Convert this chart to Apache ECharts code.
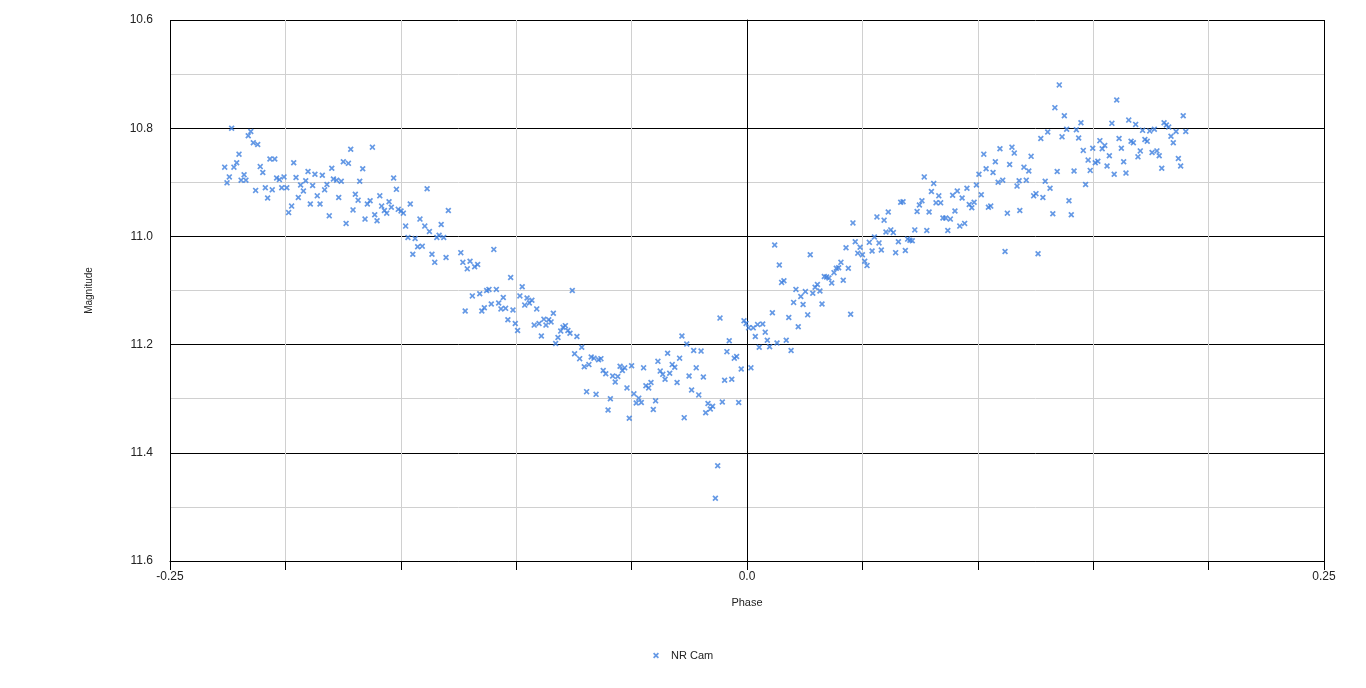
<!DOCTYPE html>
<html>
<head>
<meta charset="utf-8">
<script src="https://cdn.jsdelivr.net/npm/echarts@6/dist/echarts.min.js"></script>
<style>
html,body{margin:0;padding:0;background:#fff;}
#chart{width:1366px;height:688px;}
</style>
</head>
<body>
<div id="chart"></div>
<script>
const seriesName = 'NR Cam';
const xTickLabels = ['-0.25', '0.0', '0.25'];
const yTickLabels = ['10.6', '10.8', '11.0', '11.2', '11.4', '11.6'];

const phase = [
-0.2263,-0.2253,-0.2243,-0.2233,-0.2223,-0.2211,-0.2201,-0.2192,-0.2179,-0.2171,
-0.2161,-0.2150,-0.2139,-0.2129,-0.2120,-0.2109,-0.2098,-0.2087,-0.2077,-0.2067,
-0.2057,-0.2046,-0.2038,-0.2026,-0.2016,-0.2006,-0.1994,-0.1986,-0.1973,-0.1964,
-0.1954,-0.1944,-0.1934,-0.1922,-0.1912,-0.1902,-0.1892,-0.1882,-0.1872,-0.1862,
-0.1850,-0.1840,-0.1830,-0.1820,-0.1810,-0.1799,-0.1792,-0.1778,-0.1769,-0.1758,
-0.1749,-0.1737,-0.1727,-0.1717,-0.1707,-0.1697,-0.1685,-0.1678,-0.1665,-0.1655,
-0.1645,-0.1633,-0.1623,-0.1613,-0.1603,-0.1591,-0.1583,-0.1571,-0.1561,-0.1551,
-0.1541,-0.1531,-0.1519,-0.1511,-0.1499,-0.1489,-0.1479,-0.1469,-0.1459,-0.1448,
-0.1438,-0.1427,-0.1417,-0.1407,-0.1396,-0.1386,-0.1376,-0.1365,-0.1353,-0.1344,
-0.1334,-0.1325,-0.1314,-0.1304,-0.1294,-0.1240,-0.1231,-0.1212,-0.1200,-0.1180,
-0.1167,-0.1097,-0.1221,-0.1190,-0.1158,-0.1149,-0.1138,-0.1128,-0.1118,-0.1108,
-0.1086,-0.1076,-0.1066,-0.1056,-0.1046,-0.1036,-0.1024,-0.1014,-0.1004,-0.0994,
-0.0984,-0.0974,-0.0963,-0.0953,-0.0943,-0.0932,-0.0922,-0.0911,-0.0901,-0.0891,
-0.0880,-0.0871,-0.0859,-0.0849,-0.0839,-0.0819,-0.0807,-0.0797,-0.0787,-0.0776,
-0.0767,-0.0757,-0.0737,-0.0829,-0.0747,-0.0725,-0.0716,-0.0705,-0.0695,-0.0685,
-0.0675,-0.0663,-0.0654,-0.0643,-0.0633,-0.0623,-0.0612,-0.0602,-0.0592,-0.0582,
-0.0571,-0.0560,-0.0550,-0.0540,-0.0530,-0.0520,-0.0510,-0.0500,-0.0490,-0.0480,
-0.0469,-0.0458,-0.0448,-0.0438,-0.0426,-0.0416,-0.0406,-0.0396,-0.0386,-0.0376,
-0.0365,-0.0355,-0.0344,-0.0335,-0.0324,-0.0313,-0.0303,-0.0292,-0.0282,-0.0272,
-0.0261,-0.0251,-0.0240,-0.0231,-0.0220,-0.0209,-0.0199,-0.0189,-0.0179,-0.0169,
-0.0159,-0.0149,-0.0117,-0.0107,-0.0097,-0.0087,-0.0077,-0.0066,-0.0055,-0.0045,
-0.0036,-0.0025,-0.0127,-0.0137,-0.0013,-0.0004,0.0007,0.0017,0.0027,0.0036,
0.0046,0.0053,0.0068,0.0079,0.0088,0.0098,0.0110,0.0120,0.0130,0.0140,
0.0150,0.0160,0.0170,0.0181,0.0191,0.0202,0.0212,0.0222,0.0233,0.0243,
0.0253,0.0263,0.0274,0.0285,0.0295,0.0305,0.0316,0.0325,0.0335,0.0345,
0.0355,0.0367,0.0377,0.0387,0.0397,0.0407,0.0417,0.0429,0.0439,0.0449,
0.0459,0.0469,0.0480,0.0490,0.0500,0.0510,0.0520,0.0530,0.0542,0.0552,
0.0563,0.0572,0.0582,0.0594,0.0602,0.0612,0.0623,0.0634,0.0644,0.0656,
0.0666,0.0676,0.0686,0.0696,0.0706,0.0716,0.0727,0.0737,0.0747,0.0758,
0.0768,0.0779,0.0789,0.0799,0.0809,0.0819,0.0831,0.0839,0.0849,0.0861,
0.0870,0.0881,0.0891,0.0901,0.0911,0.0922,0.0932,0.0943,0.0953,0.0963,
0.0974,0.0984,0.0994,0.1005,0.1015,0.1026,0.1036,0.1046,0.1056,0.1066,
0.1076,0.1088,0.1108,0.1118,0.1128,0.1138,0.1158,0.1170,0.1182,0.1096,
0.1148,0.1179,0.1200,0.1210,0.1221,0.1231,0.1242,0.1252,0.1261,0.1273,
0.1282,0.1292,0.1303,0.1313,0.1325,0.1334,0.1344,0.1353,0.1365,0.1375,
0.1385,0.1395,0.1405,0.1417,0.1427,0.1437,0.1447,0.1457,0.1467,0.1478,
0.1487,0.1498,0.1509,0.1520,0.1529,0.1539,0.1550,0.1560,0.1570,0.1581,
0.1591,0.1602,0.1612,0.1622,0.1632,0.1642,0.1654,0.1664,0.1674,0.1684,
0.1694,0.1704,0.1714,0.1724,0.1734,0.1745,0.1755,0.1765,0.1776,0.1786,
0.1797,0.1807,0.1817,0.1827,0.1837,0.1847,0.1859,0.1869,0.1879,0.1890,
0.1901
];

const magnitude = [
10.872,10.901,10.890,10.800,10.872,10.864,10.848,10.896,10.886,10.896,
10.814,10.806,10.827,10.915,10.830,10.871,10.882,10.910,10.929,10.857,
10.914,10.857,10.892,10.895,10.910,10.890,10.910,10.956,10.944,10.864,
10.891,10.928,10.905,10.916,10.897,10.880,10.940,10.906,10.885,10.925,
10.940,10.887,10.914,10.904,10.962,10.874,10.894,10.896,10.928,10.898,
10.862,10.976,10.865,10.839,10.951,10.922,10.933,10.898,10.875,10.968,
10.940,10.934,10.835,10.960,10.971,10.925,10.944,10.952,10.957,10.936,
10.946,10.892,10.913,10.950,10.953,10.957,10.981,11.002,10.940,11.033,
11.004,11.019,10.968,11.018,10.981,10.912,10.991,11.033,11.048,11.002,
10.998,10.978,11.002,11.039,10.952,11.030,11.048,11.060,11.046,11.056,
11.052,11.024,11.138,11.110,11.106,11.138,11.132,11.100,11.098,11.125,
11.098,11.123,11.134,11.113,11.133,11.154,11.076,11.136,11.161,11.174,
11.110,11.093,11.127,11.114,11.123,11.118,11.164,11.134,11.161,11.184,
11.153,11.164,11.154,11.158,11.142,11.187,11.175,11.168,11.165,11.174,
11.179,11.100,11.185,11.198,11.217,11.226,11.205,11.241,11.287,11.237,
11.223,11.225,11.292,11.228,11.226,11.248,11.254,11.321,11.300,11.258,
11.269,11.259,11.240,11.248,11.243,11.280,11.336,11.239,11.291,11.308,
11.299,11.307,11.243,11.276,11.280,11.270,11.320,11.304,11.231,11.249,
11.255,11.264,11.216,11.253,11.237,11.242,11.270,11.225,11.184,11.335,
11.199,11.258,11.284,11.211,11.243,11.293,11.212,11.260,11.326,11.309,
11.319,11.314,11.151,11.306,11.266,11.213,11.193,11.264,11.225,11.222,
11.307,11.245,11.424,11.484,11.156,11.161,11.169,11.243,11.169,11.185,
11.163,11.205,11.162,11.177,11.192,11.204,11.141,11.016,11.197,11.053,
11.085,11.082,11.192,11.150,11.211,11.122,11.098,11.167,11.111,11.126,
11.102,11.145,11.034,11.105,11.094,11.089,11.101,11.125,11.074,11.075,
11.077,11.086,11.067,11.059,11.058,11.048,11.081,11.021,11.059,11.144,
10.975,11.010,11.031,11.020,11.034,11.046,11.054,11.011,11.027,11.001,
10.964,11.012,11.025,10.970,10.992,10.955,10.988,10.993,11.030,11.010,
10.937,10.936,11.026,11.005,11.007,11.008,10.988,10.954,10.942,10.934,
10.890,10.989,10.955,10.917,10.902,10.938,10.925,10.938,10.966,10.966,
10.989,10.968,10.924,10.953,10.916,10.981,10.929,10.976,10.911,10.941,
10.947,10.937,10.905,10.885,10.923,10.848,10.875,10.946,10.944,10.882,
10.862,10.900,10.896,11.028,10.957,10.867,10.846,10.907,10.952,10.838,
10.835,10.897,10.872,10.896,10.879,10.852,10.925,10.921,11.032,10.819,
10.928,10.898,10.807,10.911,10.958,10.762,10.880,10.720,10.816,10.777,
10.802,10.934,10.960,10.879,10.803,10.818,10.790,10.841,10.904,10.859,
10.878,10.837,10.864,10.861,10.823,10.838,10.832,10.870,10.851,10.791,
10.885,10.748,10.819,10.837,10.862,10.883,10.785,10.824,10.827,10.793,
10.853,10.842,10.804,10.821,10.824,10.805,10.845,10.802,10.842,10.851,
10.874,10.790,10.794,10.798,10.815,10.827,10.806,10.856,10.870,10.777,
10.806
];

const points = phase.map((p, i) => [p, magnitude[i]]);

const xMark = 'path://M0,1L1,0L2.5,1.5L4,0L5,1L3.5,2.5L5,4L4,5L2.5,3.5L1,5L0,4L1.5,2.5Z';
const markColor = '#3f7fdf';
const fontFam = '"Liberation Sans", Arial, sans-serif';

const chart = echarts.init(document.getElementById('chart'), null, {renderer: 'canvas'});
chart.setOption({
  animation: false,
  backgroundColor: '#fff',
  grid: {left: 170, right: 42, top: 20, bottom: 127, containLabel: false},
  legend: {
    left: 648, top: 645,
    itemWidth: 6, itemHeight: 6, icon: xMark,
    textStyle: {fontFamily: fontFam, fontSize: 11, color: '#222', padding: [0, 0, 0, 7]},
    data: [seriesName]
  },
  xAxis: {
    type: 'value', min: -0.25, max: 0.25, interval: 0.25,
    name: 'Phase', nameLocation: 'middle', nameGap: 36,
    nameTextStyle: {fontFamily: fontFam, fontSize: 11, color: '#222'},
    axisLine: {show: true, onZero: false, lineStyle: {color: '#000', width: 1}},
    axisTick: {show: true, length: 9, lineStyle: {color: '#000'}},
    minorTick: {show: true, splitNumber: 5, length: 9, lineStyle: {color: '#000'}},
    axisLabel: {
      fontFamily: fontFam, fontSize: 12, color: '#222', margin: 10,
      formatter: v => {
        const i = Math.round((v + 0.25) / 0.25);
        return xTickLabels[i] !== undefined ? xTickLabels[i] : '';
      }
    },
    splitLine: {show: true, lineStyle: {color: '#000', width: 1}},
    minorSplitLine: {show: true, lineStyle: {color: '#d0d0d0', width: 1}}
  },
  yAxis: {
    type: 'value', inverse: true, min: 10.6, max: 11.6, interval: 0.2,
    name: 'Magnitude', nameLocation: 'middle', nameGap: 76,
    nameTextStyle: {fontFamily: fontFam, fontSize: 10, color: '#222'},
    axisLine: {show: true, lineStyle: {color: '#000', width: 1}},
    axisTick: {show: true, length: 13, lineStyle: {color: '#000'}},
    axisLabel: {
      fontFamily: fontFam, fontSize: 12, color: '#222', margin: 17,
      formatter: v => {
        const i = Math.round((v - 10.6) / 0.2);
        return yTickLabels[i] !== undefined ? yTickLabels[i] : '';
      }
    },
    splitLine: {show: true, lineStyle: {color: '#000', width: 1}},
    minorSplitLine: {show: true, lineStyle: {color: '#d0d0d0', width: 1}},
    minorTick: {show: false, splitNumber: 2}
  },
  series: [{
    name: seriesName,
    type: 'scatter',
    symbol: xMark,
    symbolSize: 6,
    itemStyle: {color: markColor},
    data: points
  }]
});
</script>
</body>
</html>
